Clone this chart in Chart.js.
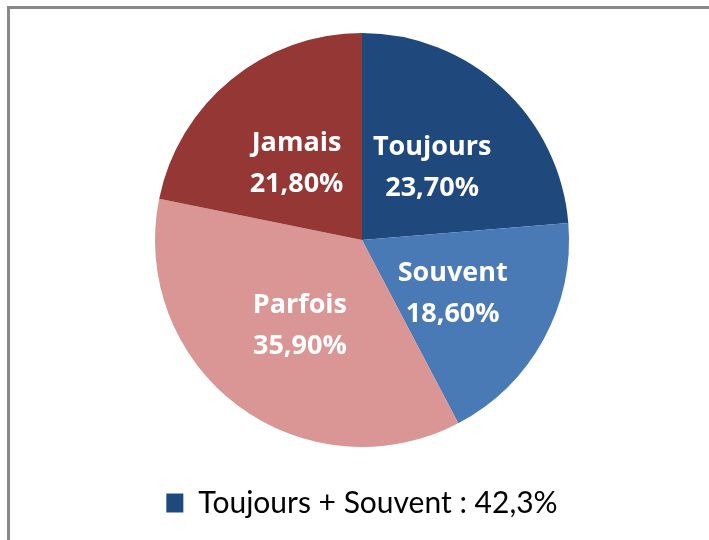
<!DOCTYPE html>
<html lang="fr">
<head>
    <meta charset="UTF-8">
    <title>Toujours / Souvent / Parfois / Jamais</title>
    <script src="https://cdn.jsdelivr.net/npm/chart.js"></script>
    <style>
        html, body { margin: 0; padding: 0; background: #fff; }
        #frame {
            position: absolute; left: 7px; top: 6px; width: 800px; height: 600px;
            border-top: 3px solid #888; border-left: 3px solid #888;
        }
        #wrap { position: absolute; left: 0; top: 0; width: 709px; height: 540px; }
    </style>
</head>
<body>
    <div id="frame"></div>
    <div id="wrap"><canvas id="myChart"></canvas></div>
    <script>
        // donnees
        const categories = ['Toujours', 'Souvent', 'Parfois', 'Jamais'];
        const valeurs = [23.7, 18.6, 35.9, 21.8];
        const couleurs = ['#1F497D', '#4A7AB6', '#D99694', '#953735'];
        const legendeTexte = 'Toujours + Souvent : ' + (valeurs[0] + valeurs[1]).toFixed(1).replace('.', ',') + '%';

        function pct(v) {
            return v.toFixed(2).replace('.', ',') + '%';
        }

        // etiquettes blanches dans les parts
        const etiquettes = {
            id: 'etiquettes',
            afterDatasetsDraw(chart) {
                const ctx = chart.ctx;
                const meta = chart.getDatasetMeta(0);
                ctx.save();
                ctx.fillStyle = '#fff';
                ctx.font = 'bold 27px "Open Sans"';
                ctx.textAlign = 'center';
                ctx.textBaseline = 'middle';
                meta.data.forEach(function(arc, i) {
                    const p = arc.tooltipPosition();
                    ctx.fillText(categories[i], p.x, p.y - 17);
                    ctx.fillText(pct(valeurs[i]), p.x, p.y + 24);
                });
                ctx.restore();
            }
        };

        const ctx = document.getElementById('myChart').getContext('2d');
        const myChart = new Chart(ctx, {
            type: 'pie',
            data: {
                labels: categories,
                datasets: [{
                    data: valeurs,
                    backgroundColor: couleurs,
                    borderWidth: 0
                }]
            },
            options: {
                responsive: true,
                maintainAspectRatio: false,
                animation: false,
                layout: { padding: { top: 33, bottom: 12, left: 15, right: 0 } },
                plugins: {
                    tooltip: { enabled: false },
                    legend: {
                        position: 'bottom',
                        labels: {
                            padding: 41,
                            boxWidth: 17,
                            boxHeight: 19,
                            color: '#000',
                            font: { family: 'Lato', size: 30 },
                            generateLabels: function() {
                                return [{
                                    text: legendeTexte,
                                    fillStyle: couleurs[0],
                                    strokeStyle: couleurs[0],
                                    lineWidth: 0,
                                    hidden: false,
                                    index: 0
                                }];
                            }
                        },
                        onClick: null
                    }
                }
            },
            plugins: [etiquettes]
        });
    </script>
</body>
</html>
